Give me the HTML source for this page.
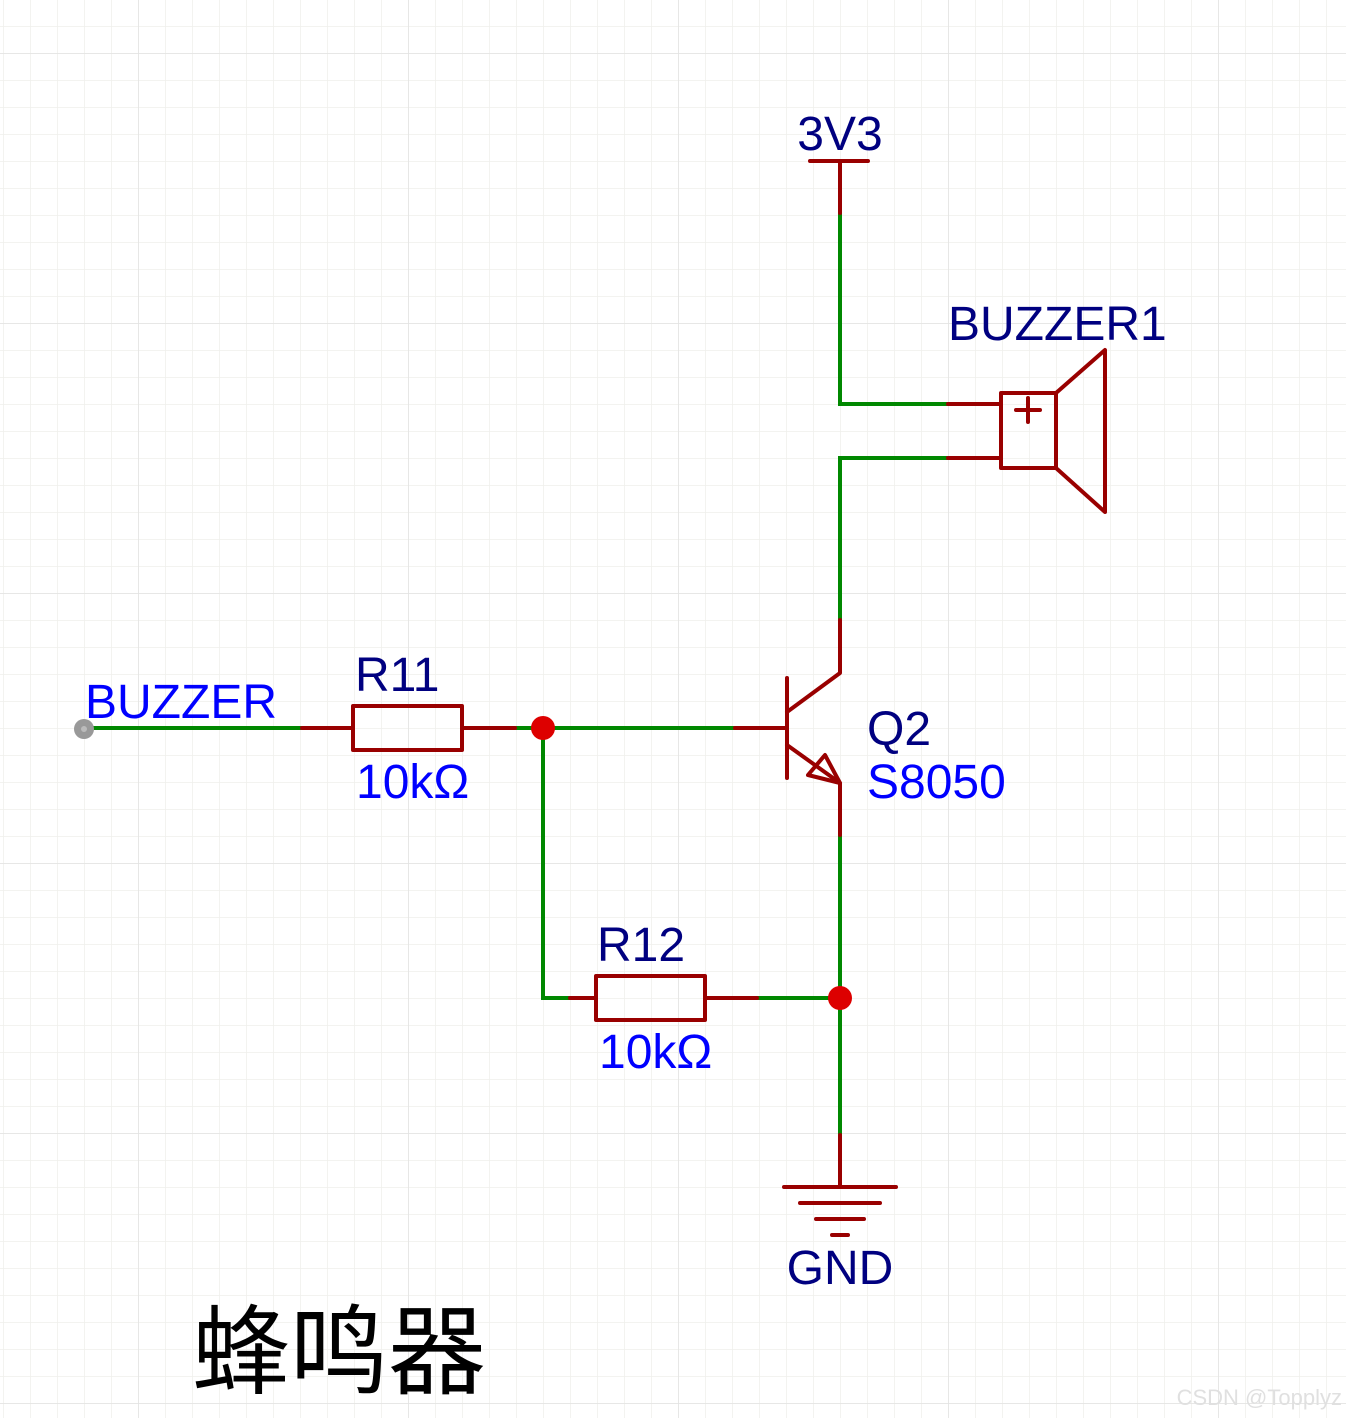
<!DOCTYPE html>
<html><head><meta charset="utf-8"><style>
html,body{margin:0;padding:0;background:#fff;}
svg{display:block;}
text{font-family:"Liberation Sans",Arial,sans-serif;font-size:48px;}
</style></head><body>
<svg width="1346" height="1418" viewBox="0 0 1346 1418" xmlns="http://www.w3.org/2000/svg">
<defs>
<pattern id="minor" width="27" height="27" patternUnits="userSpaceOnUse" x="3" y="-1">
<path d="M0 0H27M0 0V27" stroke="#efefec" stroke-width="1.5" fill="none"/>
</pattern>
<pattern id="major" width="270" height="270" patternUnits="userSpaceOnUse" x="138" y="53">
<path d="M0 0H270M0 0V270" stroke="#e2e2e2" stroke-width="1.5" fill="none"/>
</pattern>
</defs>
<rect width="1346" height="1418" fill="url(#minor)"/>
<rect width="1346" height="1418" fill="url(#major)"/>
<g fill="none" stroke-linecap="butt" stroke-width="4">
<g stroke="#008800">
<path d="M840 213V404H948"/>
<path d="M948 458H840V620"/>
<path d="M84 728H302"/>
<path d="M515 728H735"/>
<path d="M543 728V998H570"/>
<path d="M757 998H840"/>
<path d="M840 835V1135"/>
</g>
<g stroke="#990000" stroke-linejoin="round" stroke-linecap="round">
<path d="M810 161H868M840 161V213"/>
<path d="M948 404H1001M948 458H1001"/>
<rect x="1001" y="393" width="55" height="75"/>
<path d="M1056 393L1105 350V512L1056 468"/>
<path d="M1016 410H1040M1028 398V422"/>
<path d="M840 620V673L787 712"/>
<path d="M787 678V778"/>
<path d="M735 728H787"/>
<path d="M787 745L840 783V835"/>
<path d="M840 783L808 775L825 755Z"/>
<path d="M302 728H353"/>
<rect x="353" y="706" width="109" height="44"/>
<path d="M462 728H515"/>
<path d="M570 998H596"/>
<rect x="596" y="976" width="109" height="44"/>
<path d="M705 998H757"/>
<path d="M840 1135V1187"/>
<path d="M784 1187H896M800 1203H880M816 1219H864M832 1235H848"/>
</g>
</g>
<circle cx="543" cy="728" r="12" fill="#dd0000"/>
<circle cx="840" cy="998" r="12" fill="#dd0000"/>
<circle cx="84" cy="729" r="10" fill="#999"/>
<circle cx="84" cy="729" r="3" fill="#bbb"/>
<text x="840" y="150" fill="#000080" text-anchor="middle">3V3</text>
<text x="948" y="340" fill="#000080">BUZZER1</text>
<text x="85" y="718" fill="#0000ff">BUZZER</text>
<text x="355" y="691" fill="#000080">R11</text>
<text x="356" y="798" fill="#0000ff">10kΩ</text>
<text x="867" y="745" fill="#000080">Q2</text>
<text x="867" y="798" fill="#0000ff">S8050</text>
<text x="597" y="961" fill="#000080">R12</text>
<text x="599" y="1068" fill="#0000ff">10kΩ</text>
<text x="840" y="1284" fill="#000080" text-anchor="middle">GND</text>
<text x="192" y="1386" fill="#000" style="font-family:'Liberation Sans','Noto Sans CJK SC',sans-serif;font-size:98px;">蜂鸣器</text>
<text x="1342" y="1405" fill="#e0e0e0" text-anchor="end" style="font-size:22px;">CSDN @Topplyz</text>
</svg>
</body></html>
